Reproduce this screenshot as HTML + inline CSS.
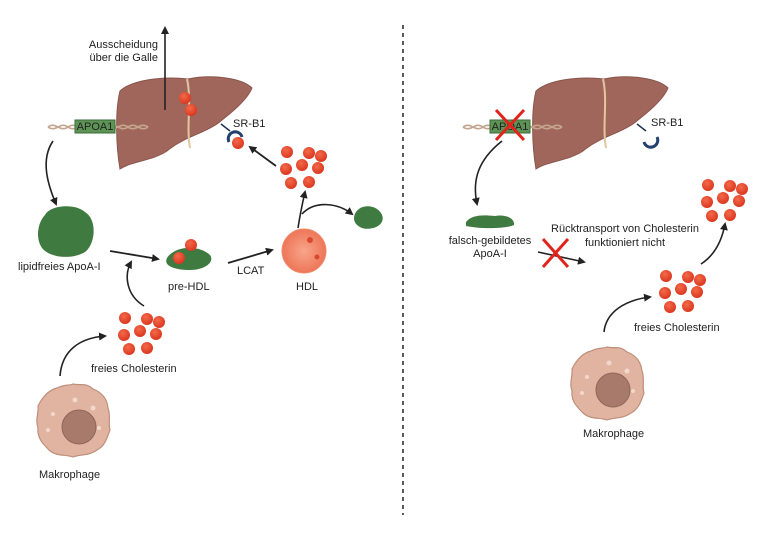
<!DOCTYPE html>
<html><head><meta charset="utf-8"><style>
html,body{margin:0;padding:0;background:#fff}
svg{display:block}
text{font-family:"Liberation Sans",sans-serif;font-size:11px;fill:#222}
</style></head><body>
<svg width="768" height="538" viewBox="0 0 768 538" xmlns="http://www.w3.org/2000/svg">
<defs>
<marker id="ah" markerWidth="8" markerHeight="8" refX="6" refY="4" orient="auto" markerUnits="userSpaceOnUse">
<path d="M0,0 L8,4 L0,8 Z" fill="#222"/></marker>
<radialGradient id="dot" cx="0.4" cy="0.35" r="0.7"><stop offset="0" stop-color="#f46a4a"/><stop offset="1" stop-color="#d8331c"/></radialGradient>
<radialGradient id="hdl" cx="0.5" cy="0.5" r="0.5"><stop offset="0" stop-color="#f7a58a"/><stop offset="1" stop-color="#ee7658"/></radialGradient>
<g id="liver">
<path d="M8,15 C20,4 50,0 76,3 C100,-2 130,2 140,12 C135,25 115,40 105,48 C90,58 70,62 55,75 C40,85 20,85 8,93 C4,70 3,35 8,15 Z" fill="#a0665b" stroke="#8a554b" stroke-width="1"/>
<path d="M75,3 C80,25 74,50 78,72" stroke="#e3c6a0" stroke-width="2" fill="none"/>
</g>
<g id="dna">
<path d="M0,0 C8,-6 12,6 20,0 C28,-6 32,6 40,0 M0,0 C8,6 12,-6 20,0 C28,6 32,-6 40,0" stroke="#c4a58e" stroke-width="1.6" fill="none"/>
</g>
<g id="dots">
<circle cx="0" cy="0" r="6" fill="url(#dot)"/><circle cx="22" cy="1" r="6" fill="url(#dot)"/><circle cx="34" cy="4" r="6" fill="url(#dot)"/>
<circle cx="-1" cy="17" r="6" fill="url(#dot)"/><circle cx="15" cy="13" r="6" fill="url(#dot)"/><circle cx="31" cy="16" r="6" fill="url(#dot)"/>
<circle cx="4" cy="31" r="6" fill="url(#dot)"/><circle cx="22" cy="30" r="6" fill="url(#dot)"/>
</g>
<g id="macro">
<path d="M0,-36 C8,-34 12,-38 20,-31 C28,-28 34,-22 35,-12 C38,-4 35,4 37,10 C34,18 32,26 24,30 C16,36 8,34 0,37 C-8,34 -16,37 -24,30 C-30,24 -36,18 -35,8 C-38,0 -34,-8 -35,-14 C-30,-24 -24,-30 -16,-32 C-8,-36 -4,-34 0,-36 Z" fill="#e0b4a0" stroke="#bf8f7b" stroke-width="1.2"/>
<circle cx="6" cy="7" r="17" fill="#a87a6c" stroke="#8f665a"/>
<circle cx="2" cy="-20" r="2.5" fill="#f2d8cc"/><circle cx="-20" cy="-6" r="2" fill="#f2d8cc"/><circle cx="20" cy="-12" r="2.5" fill="#f2d8cc"/><circle cx="-25" cy="10" r="2" fill="#f2d8cc"/><circle cx="26" cy="8" r="2" fill="#f2d8cc"/>
</g>
</defs>

<!-- LEFT -->
<g transform="translate(112,76)"><use href="#liver"/></g>
<line x1="165" y1="110" x2="165" y2="28" stroke="#222" stroke-width="1.6" marker-end="url(#ah)"/>
<text x="158" y="48" text-anchor="end">Ausscheidung</text>
<text x="158" y="61" text-anchor="end">über die Galle</text>
<circle cx="185" cy="98" r="6" fill="url(#dot)"/><circle cx="191" cy="110" r="6" fill="url(#dot)"/>
<g transform="translate(48,127)"><use href="#dna"/></g>
<g transform="translate(108,127)"><use href="#dna"/></g>
<rect x="75" y="120" width="40" height="13" fill="#5d9455" stroke="#3b6b36"/>
<text x="95" y="130" text-anchor="middle" font-size="9">APOA1</text>
<text x="233" y="127">SR-B1</text>
<line x1="221" y1="124" x2="230" y2="131" stroke="#1f2e50" stroke-width="1.5"/>
<path d="M229,142 A7,7 0 1 1 242,137" stroke="#24406e" stroke-width="3" fill="none"/>
<circle cx="238" cy="143" r="6" fill="url(#dot)"/>
<line x1="276" y1="166" x2="250" y2="147" stroke="#222" stroke-width="1.8" marker-end="url(#ah)"/>
<g transform="translate(287,152)"><use href="#dots"/></g>
<path d="M53,141 C40,160 48,185 56,204" stroke="#222" stroke-width="1.6" fill="none" marker-end="url(#ah)"/>
<path d="M45,215 C50,205 75,203 85,212 C98,220 95,245 85,252 C72,260 50,258 42,248 C35,238 38,222 45,215 Z" fill="#3f7a40"/>
<text x="18" y="270">lipidfreies ApoA-I</text>
<line x1="110" y1="251" x2="158" y2="259" stroke="#222" stroke-width="1.8" marker-end="url(#ah)"/>
<path d="M167,258 C175,245 200,245 210,255 C215,262 205,270 190,270 C175,270 163,266 167,258 Z" fill="#3f7a40"/>
<circle cx="191" cy="245" r="6" fill="url(#dot)"/><circle cx="179" cy="258" r="6" fill="url(#dot)"/>
<text x="168" y="290">pre-HDL</text>
<path d="M144,306 C126,295 124,275 131,262" stroke="#222" stroke-width="1.6" fill="none" marker-end="url(#ah)"/>
<line x1="228" y1="263" x2="272" y2="250" stroke="#222" stroke-width="1.8" marker-end="url(#ah)"/>
<text x="237" y="274">LCAT</text>
<circle cx="304" cy="251" r="22" fill="url(#hdl)" stroke="#f08a6e"/>
<circle cx="310" cy="240" r="3" fill="#d84a30"/><circle cx="317" cy="257" r="2.5" fill="#d84a30"/>
<text x="296" y="290">HDL</text>
<path d="M298,228 C300,215 302,205 305,192" stroke="#222" stroke-width="1.6" fill="none" marker-end="url(#ah)"/>
<path d="M302,214 C315,200 338,203 352,214" stroke="#222" stroke-width="1.6" fill="none" marker-end="url(#ah)"/>
<path d="M356,212 C362,203 378,205 382,215 C386,225 372,231 362,228 C354,225 352,218 356,212 Z" fill="#3f7a40"/>
<g transform="translate(125,318)"><use href="#dots"/></g>
<text x="91" y="372">freies Cholesterin</text>
<path d="M60,376 C62,350 80,338 105,336" stroke="#222" stroke-width="1.6" fill="none" marker-end="url(#ah)"/>
<g transform="translate(73,420)"><use href="#macro"/></g>
<text x="39" y="478">Makrophage</text>

<line x1="403" y1="25" x2="403" y2="515" stroke="#333" stroke-width="1.6" stroke-dasharray="4,4"/>

<!-- RIGHT -->
<g transform="translate(528,76)"><use href="#liver"/></g>
<g transform="translate(463,127)"><use href="#dna"/></g>
<g transform="translate(522,127)"><use href="#dna"/></g>
<rect x="490" y="120" width="40" height="13" fill="#5d9455" stroke="#3b6b36"/>
<text x="510" y="130" text-anchor="middle" font-size="9">APOA1</text>
<path d="M496,110 L524,140 M524,110 L496,140" stroke="#e0241c" stroke-width="3"/>
<text x="651" y="126">SR-B1</text>
<line x1="637" y1="124" x2="646" y2="131" stroke="#1f2e50" stroke-width="1.5"/>
<path d="M644,142 A7,7 0 1 0 657,137" stroke="#24406e" stroke-width="3" fill="none"/>
<path d="M502,141 C478,160 472,180 477,204" stroke="#222" stroke-width="1.6" fill="none" marker-end="url(#ah)"/>
<path d="M466,222 C472,214 485,215 495,216 C505,214 515,218 514,225 C505,229 480,229 466,226 Z" fill="#3f7a40"/>
<text x="490" y="244" text-anchor="middle">falsch-gebildetes</text>
<text x="490" y="257" text-anchor="middle">ApoA-I</text>
<line x1="538" y1="252" x2="584" y2="262" stroke="#222" stroke-width="1.6" marker-end="url(#ah)"/>
<path d="M543,239 L568,267 M568,239 L543,267" stroke="#e0241c" stroke-width="3"/>
<text x="625" y="232" text-anchor="middle">Rücktransport von Cholesterin</text>
<text x="625" y="246" text-anchor="middle">funktioniert nicht</text>
<g transform="translate(708,185)"><use href="#dots"/></g>
<path d="M701,264 C715,255 722,240 725,224" stroke="#222" stroke-width="1.6" fill="none" marker-end="url(#ah)"/>
<g transform="translate(666,276)"><use href="#dots"/></g>
<text x="634" y="331">freies Cholesterin</text>
<path d="M604,332 C606,312 625,300 650,297" stroke="#222" stroke-width="1.6" fill="none" marker-end="url(#ah)"/>
<g transform="translate(607,383)"><use href="#macro"/></g>
<text x="583" y="437">Makrophage</text>
</svg>
</body></html>
